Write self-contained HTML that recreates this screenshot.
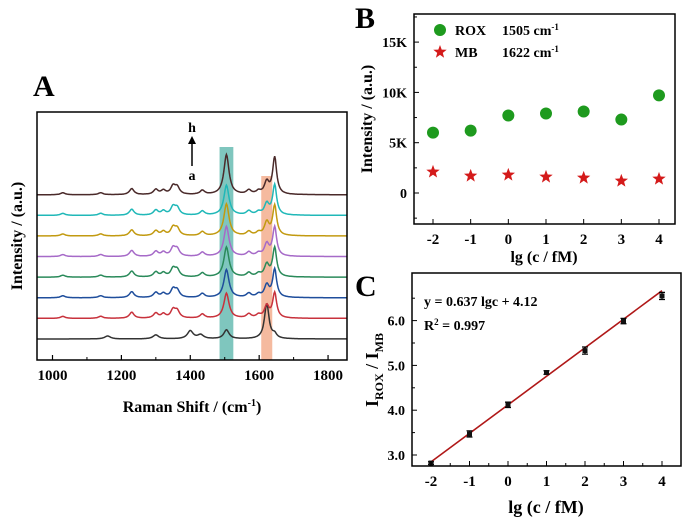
<!DOCTYPE html>
<html><head><meta charset="utf-8"><style>
body{margin:0;background:#fff}
svg{display:block;font-family:"Liberation Serif",serif;font-weight:bold}
</style></head><body>
<svg id="fig" width="694" height="522" viewBox="0 0 694 522" xmlns="http://www.w3.org/2000/svg">
<g id="pA"></g>
<g id="pB"></g>
<g id="pC"></g>
</svg>
<script>
// ---------- Panel A data ----------
const spectraColors = ["#333333","#c8323c","#1f4e9c","#2a8a5a","#a66ac8","#c29a10","#20b8b8","#4a2a2a"];
const spectraOffsets = [0,1,2,3,4,5,6,7];
const commonPeakPos = [1030,1140,1230,1300,1322,1350,1362,1435,1570,1598];
const commonPeakH = [2,2,6,5,4,8,7,4,4,3];
const peak1505 = [9,25,28,30,30,32,30,40];
const peak1622 = [35,12,12,12,12,13,11,12];
const peak1645 = [4,25,28,29,29,30,30,37];
const extraPos = [1160,1300,1400,1430];
const extraH = [3,4,8,4];
const xTicksA = [1000,1200,1400,1600,1800];
// ---------- Panel B data ----------
const concX = [-2,-1,0,1,2,3,4];
const roxVals = [6000,6200,7700,7900,8100,7300,9700];
const mbVals = [2100,1700,1800,1600,1500,1200,1400];
const yTicksB = [0,5000,10000,15000];
const yTickLabelsB = ["0","5K","10K","15K"];
// ---------- Panel C data ----------
const ratioVals = [2.82,3.47,4.12,4.84,5.33,5.99,6.55];
const ratioErr = [0.03,0.07,0.06,0.04,0.08,0.06,0.08];
const fitSlope = 0.637, fitIntercept = 4.12;
const yTicksC = [3.0,4.0,5.0,6.0];

const NS="http://www.w3.org/2000/svg";
function mk(parent,tag,attrs,text){const e=document.createElementNS(NS,tag);for(const k in attrs)e.setAttribute(k,attrs[k]);if(text!==undefined)e.textContent=text;parent.appendChild(e);return e;}

// ===== Panel A =====
(function(){
const g=document.getElementById('pA');
const L=37,R=347,T=112,B=360;
const xA=v=>L+(v-955)/(1855-955)*(R-L);
const base=i=>339-spectraOffsets[i]*20.6;
let e=mk(g,'rect',{x:xA(1485),y:147,width:xA(1525)-xA(1485),height:B-147,fill:'#5fb8ae','fill-opacity':0.8});

e=mk(g,'rect',{x:xA(1606),y:176,width:xA(1638)-xA(1606),height:B-176,fill:'#f2a987','fill-opacity':0.8});

function lor(x,c,w){return 1/(1+((x-c)/w)**2);}
for(let i=0;i<8;i++){
  let d='';
  for(let v=955;v<=1855;v+=2){
    let y=0;
    for(let k=0;k<commonPeakPos.length;k++) if(i>0) y+=commonPeakH[k]*lor(v,commonPeakPos[k],8);
    if(i===0) for(let k=0;k<extraPos.length;k++) y+=extraH[k]*lor(v,extraPos[k],10);
    y+=peak1505[i]*lor(v,1505,9)+peak1622[i]*lor(v,1622,8)+peak1645[i]*lor(v,1645,7);
    d+=(d?'L':'M')+xA(v).toFixed(1)+','+(base(i)-y).toFixed(1);
  }
  const p=mk(g,'path',{d:d,fill:'none',stroke:spectraColors[i],'stroke-width':1.5});
  
  
}
e=mk(g,'rect',{x:L,y:T,width:R-L,height:B-T,fill:'none',stroke:'#000','stroke-width':1.5});

xTicksA.forEach(t=>{mk(g,'line',{x1:xA(t),x2:xA(t),y1:B,y2:B-5,stroke:'#000','stroke-width':1.2});
 const s=mk(g,'text',{x:xA(t),y:B+20,'text-anchor':'middle','font-size':15},t);
 });
[1100,1300,1500,1700].forEach(t=>mk(g,'line',{x1:xA(t),x2:xA(t),y1:B,y2:B-3,stroke:'#000'}));
e=mk(g,'text',{x:192,y:412,'text-anchor':'middle','font-size':16},'Raman Shift / (cm');

mk(e,'tspan',{dy:-6,'font-size':10},'-1');mk(e,'tspan',{dy:6},')');
e=mk(g,'text',{transform:'translate(22,236) rotate(-90)','text-anchor':'middle','font-size':16},'Intensity / (a.u.)');

e=mk(g,'text',{x:33,y:96,'font-size':30},'A');
mk(g,'line',{x1:192,y1:166,x2:192,y2:142,stroke:'#000','stroke-width':1.5});
mk(g,'polygon',{points:'188,144 196,144 192,136',fill:'#000'});
e=mk(g,'text',{x:192,y:132,'text-anchor':'middle','font-size':14},'h');
e=mk(g,'text',{x:192,y:180,'text-anchor':'middle','font-size':14},'a');
})();

// ===== Panel B =====
(function(){
const g=document.getElementById('pB');
const L=414,R=675,T=14,B=224;
const xB=v=>433+(v+2)*(659-433)/6;
const yB=v=>193-v/5000*50.3;
let e;
concX.forEach((c,i)=>{
 e=mk(g,'circle',{cx:xB(c),cy:yB(roxVals[i]),r:6,fill:'#1e9a1e'});
 
});
function star(cx,cy,r){let p=[];for(let k=0;k<10;k++){const a=-Math.PI/2+k*Math.PI/5;const rr=k%2?r*0.42:r;p.push((cx+rr*Math.cos(a)).toFixed(1)+','+(cy+rr*Math.sin(a)).toFixed(1));}return p.join(' ');}
concX.forEach((c,i)=>{
 e=mk(g,'polygon',{points:star(xB(c),yB(mbVals[i]),7),fill:'#d41a1a'});
 
});
e=mk(g,'rect',{x:L,y:T,width:R-L,height:B-T,fill:'none',stroke:'#000','stroke-width':1.5});

yTicksB.forEach((t,i)=>{mk(g,'line',{x1:L,x2:L+5,y1:yB(t),y2:yB(t),stroke:'#000'});
 e=mk(g,'text',{x:L-7,y:yB(t)+5,'text-anchor':'end','font-size':14},yTickLabelsB[i]);
 });
[2500,7500,12500,17500,-2500].forEach(t=>mk(g,'line',{x1:L,x2:L+3,y1:yB(t),y2:yB(t),stroke:'#000'}));
concX.forEach(c=>{mk(g,'line',{x1:xB(c),x2:xB(c),y1:B,y2:B-5,stroke:'#000'});
 e=mk(g,'text',{x:xB(c),y:B+20,'text-anchor':'middle','font-size':15},String(c));
 });
e=mk(g,'text',{x:544,y:262,'text-anchor':'middle','font-size':16},'lg (c / fM)');

e=mk(g,'text',{transform:'translate(372,119) rotate(-90)','text-anchor':'middle','font-size':16},'Intensity / (a.u.)');

e=mk(g,'text',{x:355,y:28,'font-size':30},'B');
e=mk(g,'circle',{cx:440,cy:30,r:6,fill:'#1e9a1e'});
e=mk(g,'text',{x:455,y:35,'font-size':14},'ROX');
e=mk(g,'text',{x:502,y:35,'font-size':14},'1505 cm');
mk(e,'tspan',{dy:-5,'font-size':9},'-1');
e=mk(g,'polygon',{points:star(440,52,7),fill:'#d41a1a'});
e=mk(g,'text',{x:455,y:57,'font-size':14},'MB');
e=mk(g,'text',{x:502,y:57,'font-size':14},'1622 cm');
mk(e,'tspan',{dy:-5,'font-size':9},'-1');
})();

// ===== Panel C =====
(function(){
const g=document.getElementById('pC');
const L=412,R=681,T=273,B=466;
const xC=v=>431+(v+2)*(662-431)/6;
const yC=v=>455-(v-3)*44.8;
let e;
e=mk(g,'line',{x1:xC(-2),y1:yC(fitIntercept-2*fitSlope),x2:xC(4),y2:yC(fitIntercept+4*fitSlope),stroke:'#b01818','stroke-width':1.6});

concX.forEach((c,i)=>{
 const x=xC(c),y1=yC(ratioVals[i]+ratioErr[i]),y2=yC(ratioVals[i]-ratioErr[i]);
 e=mk(g,'path',{d:`M${x},${y1}V${y2}M${x-3},${y1}H${x+3}M${x-3},${y2}H${x+3}`,stroke:'#000','stroke-width':1.2,fill:'none'});
 
 e=mk(g,'rect',{x:x-2.5,y:yC(ratioVals[i])-2.5,width:5,height:5,fill:'#111'});
 
});
e=mk(g,'rect',{x:L,y:T,width:R-L,height:B-T,fill:'none',stroke:'#000','stroke-width':1.5});

yTicksC.forEach(t=>{mk(g,'line',{x1:L,x2:L+5,y1:yC(t),y2:yC(t),stroke:'#000'});
 e=mk(g,'text',{x:L-7,y:yC(t)+5,'text-anchor':'end','font-size':14},t.toFixed(1));
 });
[3.5,4.5,5.5,6.5].forEach(t=>mk(g,'line',{x1:L,x2:L+3,y1:yC(t),y2:yC(t),stroke:'#000'}));
concX.forEach(c=>{mk(g,'line',{x1:xC(c),x2:xC(c),y1:B,y2:B-5,stroke:'#000'});
 if(c<4)mk(g,'line',{x1:xC(c+0.5),x2:xC(c+0.5),y1:B,y2:B-3,stroke:'#000'});
 e=mk(g,'text',{x:xC(c),y:B+20,'text-anchor':'middle','font-size':15},String(c));
 });
e=mk(g,'text',{x:546,y:513,'text-anchor':'middle','font-size':18},'lg (c / fM)');

e=mk(g,'text',{transform:'translate(378,370) rotate(-90)','text-anchor':'middle','font-size':18},'I');

mk(e,'tspan',{dy:5,'font-size':12},'ROX');mk(e,'tspan',{dy:-5},' / I');mk(e,'tspan',{dy:5,'font-size':12},'MB');
e=mk(g,'text',{x:355,y:296,'font-size':30},'C');
e=mk(g,'text',{x:424,y:306,'font-size':14},'y = 0.637 lgc + 4.12');
e=mk(g,'text',{x:424,y:330,'font-size':14},'R');
mk(e,'tspan',{dy:-5,'font-size':9},'2');mk(e,'tspan',{dy:5},' = 0.997');
})();
</script>
</body></html>
